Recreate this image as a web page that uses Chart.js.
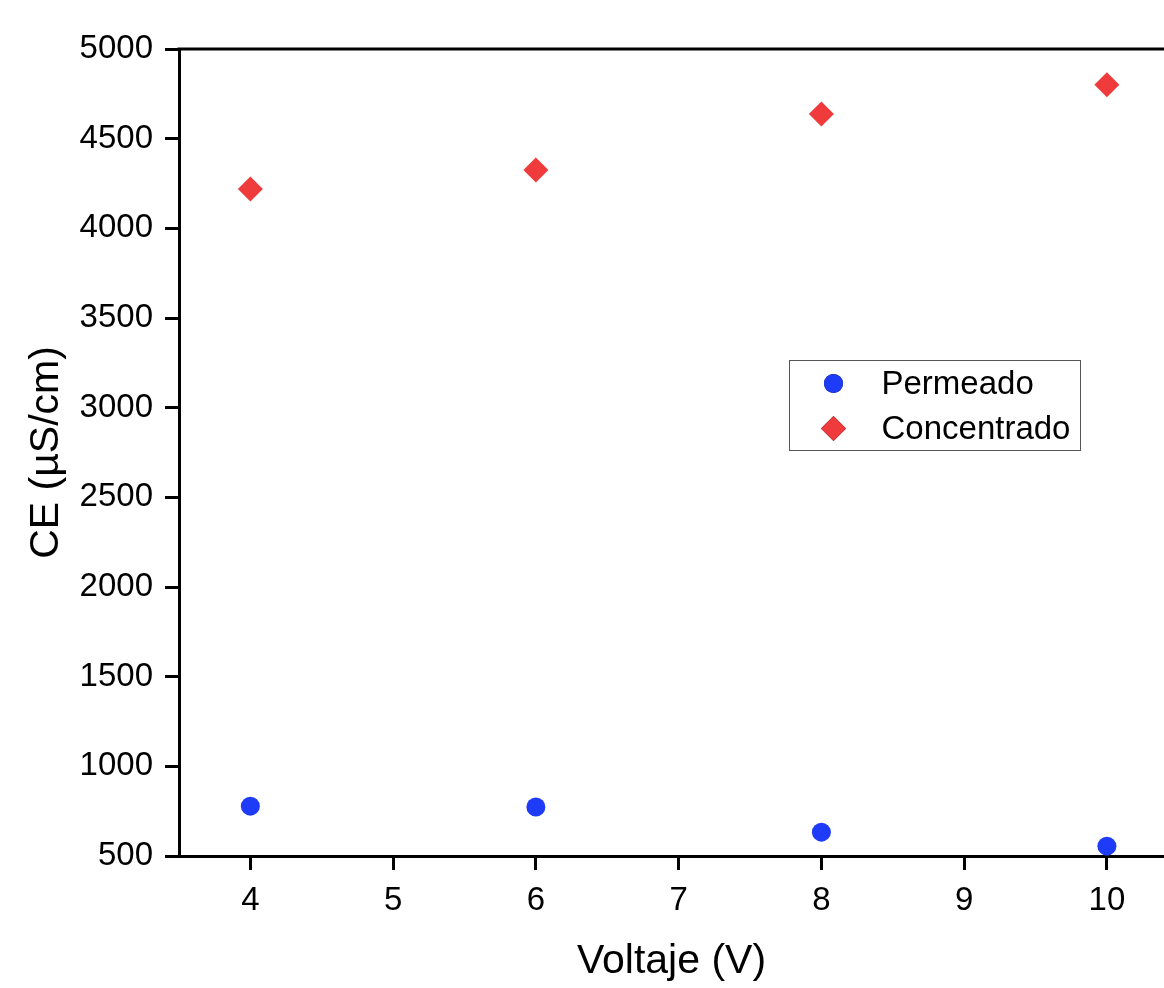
<!DOCTYPE html>
<html>
<head>
<meta charset="utf-8">
<script src="https://cdn.jsdelivr.net/npm/chart.js@4"></script>
<style>
  html, body { margin: 0; padding: 0; background: #fff; }
  #wrap { width: 1164px; height: 988px; overflow: hidden; }
</style>
</head>
<body>
<div id="wrap"><canvas id="c" width="1164" height="988"></canvas></div>
<script>
const voltaje = [4, 6, 8, 10];
const permeado = [778, 773, 633, 555];
const concentrado = [4220, 4325, 4637, 4800];
const xTickValues = [4, 5, 6, 7, 8, 9, 10];
const FONT = "'Liberation Sans', Arial, sans-serif";

// top frame line plus the boxed legend inside the plot
const frameLegend = {
  id: "frameLegend",
  afterDraw(chart) {
    const c = chart.ctx;
    const a = chart.chartArea;
    c.save();
    c.strokeStyle = "#000";
    c.lineWidth = 3;
    c.beginPath();
    c.moveTo(a.left - 1.5, a.top);
    c.lineTo(a.right, a.top);
    c.stroke();

    const box = { x: 789.5, y: 360.5, w: 291, h: 90 };
    c.lineWidth = 1;
    c.strokeStyle = "#555";
    c.strokeRect(box.x, box.y, box.w, box.h);
    c.font = "33px " + FONT;
    c.textBaseline = "middle";
    c.fillStyle = "#000";
    chart.data.datasets.forEach((ds, i) => {
      const y = box.y + 23 + i * 45;
      Chart.helpers.drawPoint(c, {
        pointStyle: ds.pointStyle,
        radius: ds.pointRadius,
        borderWidth: 0,
        rotation: 0,
      }, box.x + 44, y);
      c.fillStyle = ds.backgroundColor;
      c.fill();
      c.fillStyle = "#000";
      c.fillText(ds.label, box.x + 92, y + 1);
    });
    c.restore();
  },
};

new Chart(document.getElementById("c"), {
  type: "scatter",
  data: {
    datasets: [
      {
        label: "Permeado",
        data: voltaje.map((v, i) => ({ x: v, y: permeado[i] })),
        backgroundColor: "#1e3cf8",
        borderWidth: 0,
        pointStyle: "circle",
        pointRadius: 9.5,
      },
      {
        label: "Concentrado",
        data: voltaje.map((v, i) => ({ x: v, y: concentrado[i] })),
        backgroundColor: "#ef3b3b",
        borderWidth: 0,
        pointStyle: "rectRot",
        pointRadius: 12.5,
      },
    ],
  },
  options: {
    responsive: false,
    animation: false,
    layout: { autoPadding: false, padding: { top: 49, right: 0, left: 0, bottom: 0 } },
    plugins: { legend: { display: false }, tooltip: { enabled: false } },
    scales: {
      x: {
        type: "linear",
        min: 3.5,
        max: 10.4,
        afterBuildTicks: (s) => { s.ticks = xTickValues.map((v) => ({ value: v })); },
        afterFit: (s) => { s.height = 132; },
        grid: { drawOnChartArea: false, tickLength: 14, tickColor: "#000", tickWidth: 3 },
        border: { display: true, color: "#000", width: 3 },
        ticks: { color: "#000", font: { family: FONT, size: 33 }, padding: 11, maxRotation: 0 },
        title: {
          display: true,
          text: "Voltaje (V)",
          color: "#000",
          font: { family: FONT, size: 41 },
          padding: { top: 0, bottom: 2 },
        },
      },
      y: {
        min: 500,
        max: 5000,
        ticks: {
          stepSize: 500,
          color: "#000",
          font: { family: FONT, size: 33 },
          padding: 12,
          callback: (v) => String(v),
        },
        afterFit: (s) => { s.width = 179; },
        grid: { drawOnChartArea: false, tickLength: 14, tickColor: "#000", tickWidth: 3 },
        border: { display: true, color: "#000", width: 3 },
        title: {
          display: true,
          text: "CE (µS/cm)",
          color: "#000",
          font: { family: FONT, size: 41 },
          padding: { top: 22, bottom: 0 },
        },
      },
    },
  },
  plugins: [frameLegend],
});
</script>
</body>
</html>
